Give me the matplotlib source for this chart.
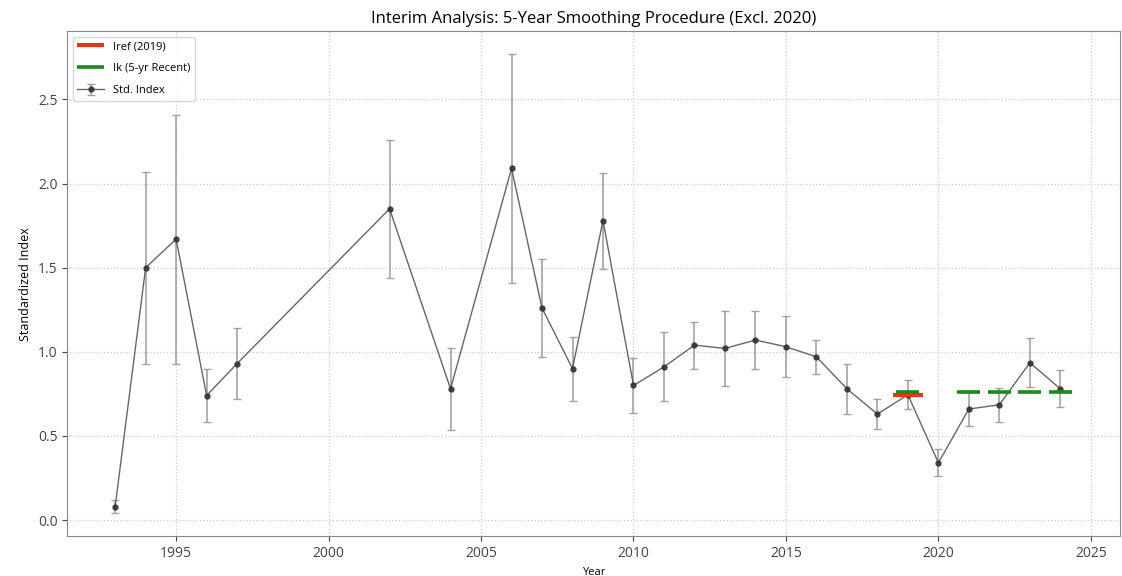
import matplotlib
matplotlib.use('Agg')
from matplotlib import pyplot as plt

plt.rcParams['font.family'] = ['Open Sans', 'DejaVu Sans']

years = [1993, 1994, 1995, 1996, 1997, 2002, 2004, 2006, 2007, 2008, 2009, 2010,
         2011, 2012, 2013, 2014, 2015, 2016, 2017, 2018, 2019, 2020, 2021, 2022,
         2023, 2024]
index = [0.08, 1.50, 1.67, 0.74, 0.93, 1.85, 0.78, 2.09, 1.26, 0.90, 1.78, 0.80,
         0.91, 1.04, 1.02, 1.07, 1.03, 0.97, 0.78, 0.63, 0.745, 0.34, 0.66, 0.685,
         0.935, 0.78]
err = [0.04, 0.57, 0.74, 0.155, 0.21, 0.41, 0.245, 0.68, 0.29, 0.19, 0.285, 0.165,
       0.205, 0.14, 0.225, 0.17, 0.18, 0.10, 0.15, 0.09, 0.085, 0.08, 0.10, 0.10,
       0.145, 0.11]

ref_year = 2019
recent_years = [2019, 2021, 2022, 2023, 2024]   # 5 most recent, 2020 left out

iref = index[years.index(ref_year)]
ik = sum(index[years.index(y)] for y in recent_years) / len(recent_years)

fig, ax = plt.subplots(figsize=(11.22, 5.76), dpi=100)
fig.subplots_adjust(left=0.06, right=0.998, top=0.946, bottom=0.069)

# Std. index with error bars
ax.errorbar(years, index, yerr=err, fmt='-o', color='#555555', ms=3.5,
            mfc='#333333', mec='#333333', lw=1, ecolor='#999999', elinewidth=1.2,
            capsize=3, alpha=0.9, label='Std. Index', zorder=2)

# Iref and Ik segments
ax.hlines(iref, ref_year - 0.5, ref_year + 0.5, colors='#e8331f', lw=3,
          label='Iref (2019)', zorder=3)
for i, y in enumerate(recent_years):
    ax.hlines(ik, y - 0.38, y + 0.38, colors='#1a8a1a', lw=2.6, zorder=4,
              label='Ik (5-yr Recent)' if i == 0 else None)

ax.set_title('Interim Analysis: 5-Year Smoothing Procedure (Excl. 2020)', fontsize=12)
ax.set_xlabel('Year', fontsize=8)
ax.set_ylabel('Standardized Index', fontsize=9)
ax.tick_params(labelsize=10, colors='#444444')
ax.grid(True, linestyle=':', color='#cccccc', lw=0.9)
for s in ax.spines.values():
    s.set_color('#888888')

handles, labels = ax.get_legend_handles_labels()
order = [labels.index('Iref (2019)'), labels.index('Ik (5-yr Recent)'), labels.index('Std. Index')]
ax.legend([handles[i] for i in order], [labels[i] for i in order], loc='upper left',
          fontsize=8, labelspacing=1.0, handlelength=2.4)

plt.savefig('out.png', dpi=100)
